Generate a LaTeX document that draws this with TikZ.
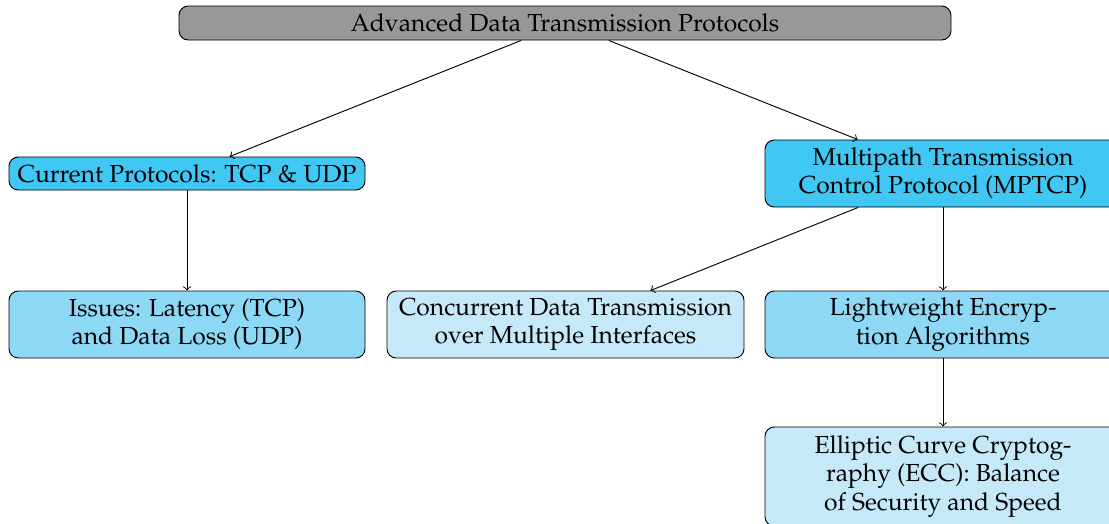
\documentclass[tikz,border=0pt]{standalone}
\usepackage[T1]{fontenc}
\usepackage{mathpazo}
\definecolor{topgray}{RGB}{152,152,152}
\definecolor{cyanA}{RGB}{64,199,243}
\definecolor{cyanB}{RGB}{141,216,245}
\definecolor{cyanC}{RGB}{198,233,249}
\tikzset{
  box/.style={draw, rounded corners=4pt, align=center, inner sep=0pt, font=\fontsize{10.6}{12.1}\selectfont},
  conn/.style={->}
}
\begin{document}
\begin{tikzpicture}[x=0.43pt, y=-0.43pt]
\useasboundingbox (0,0) rectangle (1109,523);
\node[box, fill=topgray, minimum width={772*0.43pt}, minimum height={34*0.43pt}] (top) at (565,23) {Advanced Data Transmission Protocols};
\node[box, fill=cyanA, minimum width={356*0.43pt}, minimum height={33*0.43pt}] (cur) at (187,173.5) {Current Protocols: TCP \& UDP};
\node[box, fill=cyanA, minimum width={356*0.43pt}, minimum height={67*0.43pt}] (mp) at (943,173.5) {Multipath Transmission\\Control Protocol (MPTCP)};
\node[box, fill=cyanB, minimum width={356*0.43pt}, minimum height={67*0.43pt}] (iss) at (187,324.5) {Issues: Latency (TCP)\\and Data Loss (UDP)};
\node[box, fill=cyanC, minimum width={357*0.43pt}, minimum height={67*0.43pt}] (conc) at (565.5,324.5) {Concurrent Data Transmission\\over Multiple Interfaces};
\node[box, fill=cyanB, minimum width={356*0.43pt}, minimum height={67*0.43pt}] (lw) at (943,324.5) {Lightweight Encryp-\\tion Algorithms};
\node[box, fill=cyanC, minimum width={356*0.43pt}, minimum height={99*0.43pt}] (ecc) at (943,476.5) {Elliptic Curve Cryptog-\\raphy (ECC): Balance\\of Security and Speed};
\draw[conn] (top) -- (cur);
\draw[conn] (top) -- (mp);
\draw[conn] (cur) -- (iss);
\draw[conn] (mp) -- (conc);
\draw[conn] (mp) -- (lw);
\draw[conn] (lw) -- (ecc);
\end{tikzpicture}
\end{document}
